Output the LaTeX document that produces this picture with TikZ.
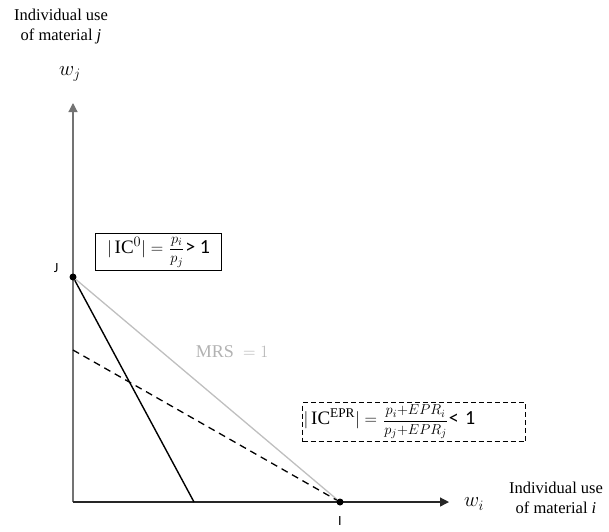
\documentclass[tikz,border=0pt]{standalone}
\usepackage{fontspec}
\setmainfont{Liberation Serif}
\newfontfamily\calib{Carlito}
\usetikzlibrary{arrows.meta}
\newcommand\fracsz[2]{{\fontsize{15.5}{16}\selectfont$\displaystyle\frac{#1}{#2}$}}
\begin{document}
\begin{tikzpicture}[x=1pt,y=-1pt,
  lbl/.style={font=\fontsize{16.5}{20}\selectfont, align=center},
  axis/.style={line width=1.2pt, -{Triangle[length=9pt,width=9pt]}},
  dot/.style={circle, fill=black, inner sep=0pt, minimum size=7pt},
  eqbox/.style={draw, line width=1pt, inner sep=1pt, font=\fontsize{19}{21}\selectfont}]
\useasboundingbox (0,0) rectangle (609,531);
\coordinate (O) at (73,502);
\coordinate (ytip) at (73,103);
\coordinate (xtip) at (449,502);
\draw[axis, draw=gray!90!black] (O) -- (ytip);
\draw[axis, draw=black!85] (O) -- (xtip);
\node[dot] (J) at (73,277) {};
\node[dot] (I) at (340,502) {};
\coordinate (A) at (194,502);
\coordinate (D) at (73,350);
\draw[gray!50, line width=1.3pt] (J) -- (I);
\draw[line width=1.4pt] (J) -- (A);
\draw[line width=1.3pt, dash pattern=on 7pt off 5pt] (D) -- (I);
\node[lbl] (ylab) at (61,27) {Individual use\\of material \textit{j}};
\node[font=\fontsize{22}{24}\selectfont] (wj) at (70,74) {$w_j$};
\node[font=\fontsize{22}{24}\selectfont] (wi) at (474,504) {$w_i$};
\node[lbl] (xlab) at (556,498) {Individual use\\of material \textit{i}};
\node[font=\calib\fontsize{14}{15}\selectfont] (Jl) at (56,268) {J};
\node[font=\calib\fontsize{14}{15}\selectfont, inner sep=0pt] (Il) at (340,521) {I};
\node[font=\fontsize{18}{20}\selectfont, text=gray!60] (mrs) at (232,352) {MRS $\;=1$};
\node[eqbox, anchor=north west, minimum width=126pt, minimum height=37pt] (ic0) at (95,233)
  {$|\,\mathrm{IC}^{0}| =$\hspace{6pt}\fracsz{p_i}{p_j}\hspace{1pt}{\calib\fontsize{20}{21}\selectfont > 1}};
\node[eqbox, dashed, dash pattern=on 5pt off 3pt, anchor=north west, minimum height=39pt, text width=221pt, align=left] (icepr) at (302,402)
  {$|\,\mathrm{IC}^{\mathrm{EPR}}| =$\hspace{6pt}\fracsz{p_i{+}EPR_i}{p_j{+}EPR_j}\hspace{1pt}{\calib\fontsize{20}{21}\selectfont < 1}};
\end{tikzpicture}
\end{document}
